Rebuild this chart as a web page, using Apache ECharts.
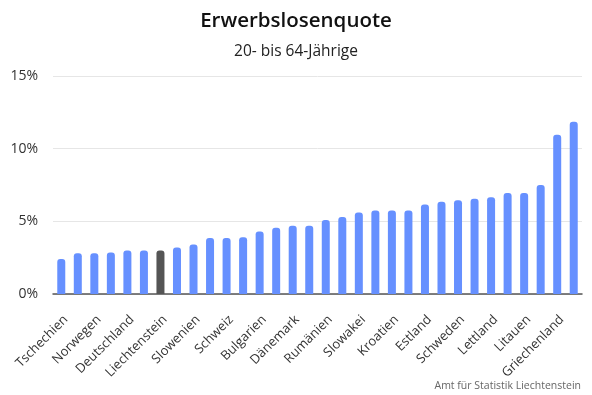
<!DOCTYPE html>
<html>
<head>
<meta charset="utf-8">
<script src="https://cdn.jsdelivr.net/npm/echarts@6/dist/echarts.min.js"></script>
<style>html,body{margin:0;padding:0;background:#fff}#c{width:592px;height:395px}</style>
</head>
<body>
<div id="c"></div>
<script>
var categories = ["Tschechien","Polen","Norwegen","Malta","Deutschland","Niederlande","Liechtenstein","Ungarn","Slowenien","Island","Schweiz","Irland","Bulgarien","Belgien","Dänemark","Österreich","Rumänien","Luxemburg","Slowakei","Portugal","Kroatien","Zypern","Estland","Frankreich","Schweden","Finnland","Lettland","Italien","Litauen","Türkei","Griechenland","Spanien"];
var values = [2.4,2.8,2.8,2.85,3.0,3.0,3.0,3.2,3.4,3.85,3.85,3.9,4.3,4.55,4.7,4.7,5.1,5.3,5.6,5.75,5.75,5.75,6.15,6.35,6.45,6.55,6.65,6.95,6.95,7.5,10.95,11.85];
var highlight = "Liechtenstein";
var yTicks = [0,5,10,15];

var font = "'Open Sans', 'Noto Sans', sans-serif";
var chart = echarts.init(document.getElementById('c'), null, {renderer:'canvas'});
chart.setOption({
  animation: false,
  backgroundColor: '#fff',
  title: [
    {text: 'Erwerbslosenquote', left: 'center', top: 6, textStyle: {fontFamily: font, fontSize: 20.5, fontWeight: 600, color: '#111'}},
    {text: '20- bis 64-Jährige', left: 'center', top: 39, textStyle: {fontFamily: font, fontSize: 15.5, fontWeight: 'normal', color: '#222'}},
    {text: 'Amt für Statistik Liechtenstein', right: 6, bottom: -2, textStyle: {fontFamily: font, fontSize: 10.5, fontWeight: 'normal', color: '#666'}}
  ],
  grid: {left: 53, right: 10, top: 76, bottom: 101, containLabel: false},
  xAxis: {
    type: 'category',
    data: categories,
    axisTick: {show: false},
    axisLine: {lineStyle: {color: '#555', width: 1.5}},
    axisLabel: {interval: 1, rotate: 45, margin: 19, align: 'right', verticalAlign: 'top', fontFamily: font, fontSize: 13, color: '#333'}
  },
  yAxis: {
    type: 'value',
    min: yTicks[0], max: yTicks[yTicks.length-1], interval: 5,
    axisLine: {show: false},
    axisTick: {show: false},
    splitLine: {lineStyle: {color: '#e6e6e6', width: 1}},
    axisLabel: {formatter: '{value}%', fontFamily: font, fontSize: 14, color: '#333', margin: 15}
  },
  series: [{
    type: 'bar',
    barWidth: 8,
    data: values.map(function(v, i){
      return {value: v, itemStyle: {color: categories[i] === highlight ? '#555555' : '#6690ff', borderRadius: [3,3,0,0]}};
    })
  }]
});
</script>
</body>
</html>
